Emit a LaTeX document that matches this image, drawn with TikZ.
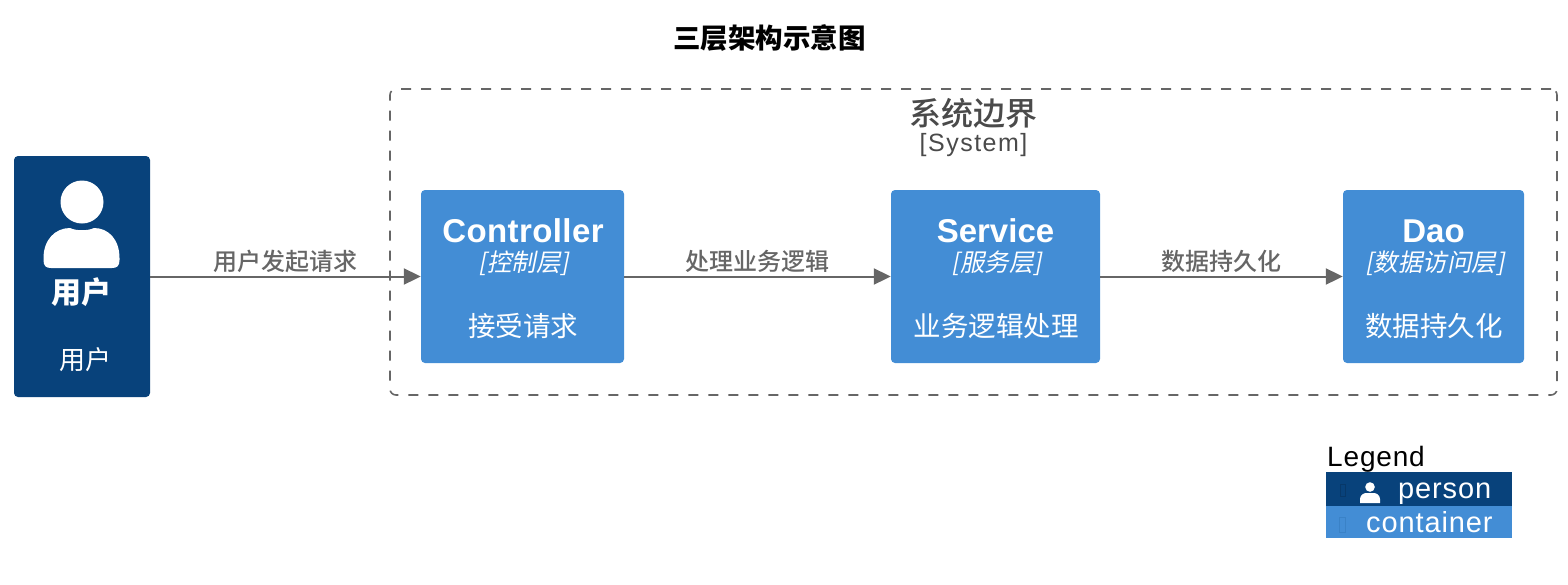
\documentclass[tikz,border=0pt]{standalone}
\usepackage{fontspec}
\usetikzlibrary{arrows.meta}
\setmainfont{Liberation Sans}
\newfontfamily\cjk[Kerning=Off]{Noto Sans CJK SC}
\newfontfamily\cjkm[Kerning=Off]{Noto Sans CJK SC Medium}
\newfontfamily\cjkit[AutoFakeSlant=0.2,Kerning=Off]{Noto Sans CJK SC}
\newfontfamily\spaced[LetterSpace=3]{Liberation Sans}
\newfontfamily\spacedw[LetterSpace=6]{Liberation Sans}
\newcommand{\fsz}[1]{\fontsize{#1}{#1}\selectfont}
\definecolor{darkblue}{HTML}{08427B}
\definecolor{lightblue}{HTML}{438DD5}
\definecolor{linegray}{HTML}{666666}
\definecolor{txtgray}{HTML}{4A4A4A}
\tikzset{
  boxbase/.style={rectangle,rounded corners=4pt,inner sep=0pt,draw=none},
  personbox/.style={boxbase,fill=darkblue,minimum width=136pt,minimum height=241pt},
  contbox/.style={boxbase,fill=lightblue,minimum height=173pt},
  boundary/.style={rectangle,rounded corners=6pt,inner sep=0pt,draw=linegray,line width=1.6pt,dash pattern=on 10pt off 10pt,minimum width=1167pt,minimum height=306pt},
  rel/.style={draw=linegray,line width=2pt,-{Triangle[length=17pt,width=16pt,fill=linegray]}},
  rellabel/.style={midway,above,inner sep=0pt,yshift=3pt,text=linegray,font=\cjkm\fsz{24}},
  wtxt/.style={text=white,inner sep=0pt,anchor=center},
  conttitle/.style={wtxt,font=\bfseries\fsz{33}},
  conttech/.style={wtxt,font=\cjkit\itshape\fsz{24.5}},
  contdesc/.style={wtxt,font=\cjk\fsz{27.5}},
  legbar/.style={rectangle,inner sep=0pt,minimum width=186pt},
  legtxt/.style={wtxt,anchor=base west,font=\spaced\fsz{29}},
  tofu/.style={draw=#1,line width=0.8pt,fill=none}
}
\begin{document}
\begin{tikzpicture}[x=1pt,y=-1pt]
\useasboundingbox (0,0) rectangle (1568,584);
% title
\node[inner sep=0pt,text=black,font=\cjk\bfseries\fsz{27.5}] (title) at (769.5,38) {三层架构示意图};
% system boundary
\node[boundary] (sys) at (973.5,242) {};
\node[inner sep=0pt,text=txtgray,font=\cjkm\fsz{32}] (systitle) at (973,113) {系统边界};
\node[inner sep=0pt,text=txtgray,font=\spacedw\fsz{25}] (systype) at (973.5,145) {[System]};
% boxes
\node[personbox] (user) at (82,276.5) {};
\node[contbox,minimum width=203pt] (ctrl) at (522.5,276.5) {};
\node[contbox,minimum width=209pt] (svc) at (995.5,276.5) {};
\node[contbox,minimum width=181pt] (dao) at (1433.5,276.5) {};
% person icon
\fill[white] (82,202) circle (21.5);
\fill[white] (43.5,258) .. controls (43.5,240) and (55,228) .. (70,228) .. controls (76,231) and (88,231) .. (94,228) .. controls (109,228) and (119.5,240) .. (119.5,258) -- (119.5,260) .. controls (119.5,266) and (117,268) .. (112,268) -- (51,268) .. controls (46,268) and (43.5,266) .. (43.5,260) -- cycle;
\node[wtxt,font=\cjk\bfseries\fsz{30}] (usern) at (81.5,292) {用户};
\node[wtxt,font=\cjk\fsz{26}] (userd) at (85,360) {用户};
% controller
\node[conttitle] (ctrlt) at (523,231) {\addfontfeature{LetterSpace=1.2}Controller};
\node[conttech] (ctrlk) at (524,263) {[控制层]};
\node[contdesc] (ctrld) at (523,326) {接受请求};
% service
\node[conttitle] (svct) at (995.5,231) {Service};
\node[conttech] (svck) at (997,263) {[服务层]};
\node[contdesc] (svcd) at (996,326) {业务逻辑处理};
% dao
\node[conttitle] (daot) at (1433.5,231) {Dao};
\node[conttech] (daok) at (1435,263) {[数据访问层]};
\node[contdesc] (daod) at (1434,326) {数据持久化};
% relations
\draw[rel] (user.east |- user.center) -- node[rellabel] {用户发起请求} (ctrl.west);
\draw[rel] (ctrl.east) -- node[rellabel] {处理业务逻辑} (svc.west);
\draw[rel] (svc.east) -- node[rellabel] {数据持久化} (dao.west);
% legend
\node[inner sep=0pt,anchor=base west,text=black,font=\spaced\fsz{28}] (legt) at (1327,466) {Legend};
\node[legbar,fill=darkblue,minimum height=34pt] (legp) at (1419,489) {};
\node[legbar,fill=lightblue,minimum height=32pt] (legc) at (1419,522) {};
\fill[white] (1370,487) circle (4.8);
\fill[white] (1360,503) -- (1360,499) .. controls (1360,495) and (1364,493) .. (1366,493) -- (1374,493) .. controls (1376,493) and (1380,495) .. (1380,499) -- (1380,503) -- cycle;
\draw[tofu=darkblue!85!black] (1340,484) rectangle (1345,496);
\draw[tofu=lightblue!85!darkblue] (1339,517) rectangle (1345,532);
\node[legtxt] (legpt) at (1398,498) {person};
\node[legtxt] (legct) at (1366,532) {container};
\end{tikzpicture}
\end{document}
